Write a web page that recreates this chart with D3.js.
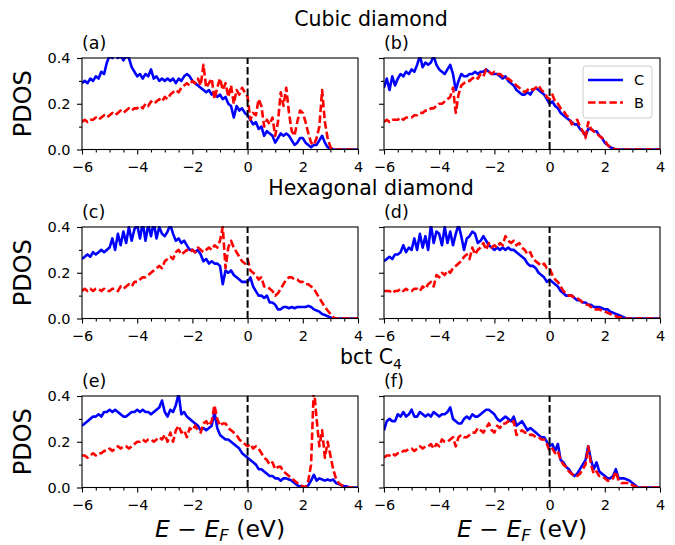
<!DOCTYPE html>
<html><head><meta charset="utf-8">
<script src="https://cdn.jsdelivr.net/npm/d3@7"></script>
<style>body{margin:0;background:#fff} text{font-family:"DejaVu Sans",sans-serif}</style>
</head><body><svg id="c" width="675" height="545"></svg>
<script>
// energy grid: -6.0 .. 4.0 eV, 0.1 eV step (101 samples)
const E_START = -6, E_STEP = 0.1;
const xTicks = [-6, -4, -2, 0, 2, 4];
const yTicks = [0.0, 0.2, 0.4];
const seriesNames = ["C", "B"];
const panelLabels = ["(a)", "(b)", "(c)", "(d)", "(e)", "(f)"];
const rowTitles = ["Cubic diamond", "Hexagonal diamond", "bct C"];

// (a) cubic diamond
const cubicA_C = [0.29,0.30,0.29,0.31,0.30,0.32,0.31,0.34,0.33,0.38,
0.41,0.40,0.42,0.40,0.41,0.39,0.41,0.40,0.36,0.34,
0.32,0.33,0.31,0.33,0.32,0.35,0.31,0.32,0.30,0.31,
0.30,0.31,0.30,0.31,0.29,0.31,0.30,0.32,0.33,0.32,
0.30,0.29,0.28,0.27,0.26,0.25,0.26,0.24,0.25,0.23,
0.24,0.22,0.23,0.20,0.19,0.14,0.19,0.17,0.18,0.16,
0.15,0.13,0.11,0.12,0.09,0.10,0.06,0.08,0.07,0.06,
0.03,0.05,0.07,0.06,0.07,0.06,0.04,0.02,0.03,0.05,
0.05,0.03,0.02,0.01,0.02,0.02,0.04,0.06,0.03,0.01,
0.005,0,0,0,0,0,0,0,0,0,0];
const cubicA_B = [0.12,0.13,0.12,0.13,0.13,0.14,0.13,0.14,0.15,0.14,
0.15,0.16,0.15,0.16,0.17,0.16,0.17,0.18,0.17,0.18,
0.18,0.19,0.18,0.20,0.19,0.21,0.20,0.21,0.22,0.21,
0.23,0.22,0.24,0.25,0.26,0.25,0.27,0.28,0.29,0.28,
0.30,0.29,0.31,0.28,0.37,0.27,0.29,0.31,0.22,0.27,
0.31,0.26,0.29,0.23,0.28,0.20,0.26,0.24,0.27,0.25,
0.23,0.13,0.16,0.15,0.22,0.19,0.10,0.13,0.11,0.14,
0.06,0.12,0.25,0.19,0.27,0.16,0.08,0.06,0.12,0.17,
0.16,0.12,0.07,0.03,0.02,0.05,0.10,0.26,0.12,0.05,
0.01,0,0,0,0,0,0,0,0,0,0];
// (b) cubic diamond
const cubicB_C = [0.27,0.31,0.26,0.32,0.28,0.31,0.33,0.32,0.34,0.33,
0.35,0.34,0.37,0.41,0.36,0.38,0.37,0.38,0.41,0.37,
0.35,0.34,0.33,0.35,0.37,0.33,0.26,0.30,0.33,0.32,
0.32,0.33,0.33,0.34,0.33,0.34,0.34,0.35,0.34,0.33,
0.33,0.33,0.32,0.31,0.32,0.30,0.29,0.28,0.26,0.25,
0.24,0.24,0.25,0.24,0.26,0.27,0.26,0.25,0.24,0.22,
0.20,0.21,0.19,0.18,0.16,0.15,0.14,0.13,0.12,0.11,
0.11,0.09,0.08,0.06,0.09,0.09,0.08,0.08,0.06,0.05,
0.03,0.02,0.01,0.005,0,0,0,0,0,0,
0,0,0,0,0,0,0,0,0,0,0];
const cubicB_B = [0.12,0.13,0.12,0.13,0.13,0.13,0.14,0.13,0.14,0.14,
0.14,0.15,0.15,0.16,0.16,0.17,0.17,0.18,0.18,0.19,
0.20,0.20,0.21,0.22,0.23,0.27,0.16,0.24,0.28,0.29,
0.30,0.30,0.31,0.32,0.31,0.33,0.32,0.35,0.34,0.33,
0.34,0.33,0.33,0.32,0.31,0.31,0.30,0.29,0.28,0.27,
0.26,0.25,0.26,0.27,0.26,0.27,0.28,0.26,0.25,0.23,
0.22,0.24,0.21,0.20,0.18,0.17,0.15,0.14,0.11,0.12,
0.13,0.10,0.08,0.05,0.12,0.09,0.08,0.07,0.06,0.05,
0.04,0.02,0.01,0.005,0,0,0,0,0,0,
0,0,0,0,0,0,0,0,0,0,0];
// (c) hexagonal diamond
const hexA_C = [0.26,0.27,0.28,0.27,0.29,0.28,0.29,0.30,0.29,0.30,
0.31,0.35,0.30,0.37,0.32,0.38,0.33,0.40,0.34,0.39,
0.41,0.35,0.42,0.34,0.41,0.36,0.42,0.35,0.40,0.37,
0.36,0.38,0.41,0.37,0.34,0.35,0.33,0.34,0.32,0.30,
0.30,0.29,0.30,0.28,0.25,0.26,0.24,0.25,0.24,0.24,
0.23,0.15,0.21,0.20,0.21,0.19,0.18,0.17,0.16,0.16,
0.16,0.18,0.14,0.12,0.10,0.10,0.09,0.10,0.07,0.07,
0.06,0.04,0.04,0.05,0.05,0.045,0.05,0.045,0.05,0.05,
0.05,0.05,0.055,0.05,0.04,0.035,0.03,0.02,0.015,0.01,
0.005,0,0,0,0,0,0,0,0,0,0];
const hexA_B = [0.12,0.13,0.12,0.13,0.12,0.13,0.13,0.12,0.13,0.12,
0.12,0.13,0.13,0.12,0.14,0.13,0.14,0.15,0.14,0.16,
0.16,0.17,0.18,0.18,0.19,0.20,0.21,0.22,0.23,0.22,
0.25,0.26,0.27,0.26,0.29,0.30,0.28,0.29,0.30,0.29,
0.30,0.29,0.31,0.30,0.29,0.30,0.31,0.30,0.32,0.31,
0.34,0.40,0.22,0.31,0.34,0.31,0.29,0.27,0.25,0.24,
0.26,0.21,0.20,0.19,0.17,0.18,0.14,0.14,0.13,0.12,
0.10,0.11,0.13,0.15,0.17,0.18,0.18,0.17,0.17,0.16,
0.16,0.15,0.15,0.14,0.13,0.11,0.09,0.07,0.05,0.035,
0.02,0.005,0,0,0,0,0,0,0,0,0];
// (d) hexagonal diamond
const hexB_C = [0.25,0.26,0.27,0.26,0.28,0.28,0.29,0.32,0.29,0.31,
0.30,0.35,0.30,0.37,0.31,0.36,0.30,0.41,0.33,0.38,
0.37,0.32,0.40,0.33,0.38,0.32,0.37,0.41,0.36,0.30,
0.35,0.36,0.38,0.37,0.33,0.34,0.36,0.34,0.32,0.31,
0.30,0.31,0.30,0.31,0.30,0.31,0.30,0.30,0.29,0.28,
0.27,0.26,0.24,0.23,0.23,0.22,0.20,0.19,0.18,0.16,
0.17,0.16,0.15,0.14,0.12,0.11,0.10,0.10,0.10,0.09,
0.08,0.08,0.07,0.07,0.06,0.06,0.05,0.05,0.05,0.045,
0.04,0.04,0.03,0.025,0.02,0.015,0.01,0.005,0,0,
0,0,0,0,0,0,0,0,0,0,0];
const hexB_B = [0.12,0.12,0.12,0.11,0.12,0.12,0.13,0.12,0.13,0.12,
0.12,0.13,0.13,0.12,0.14,0.13,0.15,0.16,0.14,0.19,
0.18,0.20,0.19,0.21,0.20,0.22,0.23,0.24,0.25,0.27,
0.28,0.26,0.31,0.28,0.30,0.31,0.33,0.30,0.33,0.31,
0.32,0.31,0.33,0.32,0.36,0.34,0.33,0.34,0.32,0.33,
0.31,0.30,0.28,0.29,0.26,0.25,0.24,0.23,0.24,0.22,
0.22,0.19,0.17,0.16,0.14,0.12,0.11,0.10,0.10,0.09,
0.09,0.08,0.07,0.06,0.06,0.05,0.04,0.04,0.04,0.035,
0.03,0.025,0.02,0.015,0.01,0.005,0.005,0,0,0,
0,0,0,0,0,0,0,0,0,0,0];
// (e) bct C4
const bctA_C = [0.27,0.28,0.29,0.30,0.31,0.31,0.32,0.31,0.33,0.33,
0.34,0.33,0.34,0.33,0.32,0.31,0.31,0.32,0.33,0.33,
0.34,0.33,0.34,0.33,0.33,0.32,0.33,0.34,0.35,0.38,
0.33,0.31,0.34,0.33,0.36,0.41,0.32,0.33,0.31,0.30,
0.29,0.28,0.27,0.25,0.26,0.25,0.26,0.27,0.33,0.26,
0.23,0.22,0.21,0.21,0.20,0.19,0.18,0.17,0.15,0.14,
0.13,0.12,0.11,0.10,0.08,0.08,0.07,0.06,0.05,0.05,
0.04,0.04,0.03,0.04,0.04,0.035,0.03,0.02,0.01,0.005,
0.005,0,0.01,0.03,0.055,0.03,0.04,0.035,0.03,0.035,
0.03,0.035,0.02,0.015,0.01,0.005,0.005,0,0,0,0];
const bctA_B = [0.14,0.14,0.13,0.14,0.15,0.14,0.15,0.15,0.16,0.16,
0.17,0.16,0.17,0.18,0.17,0.18,0.18,0.17,0.18,0.19,
0.20,0.20,0.21,0.20,0.21,0.21,0.20,0.21,0.22,0.21,
0.23,0.20,0.24,0.20,0.25,0.27,0.24,0.25,0.22,0.26,
0.25,0.27,0.25,0.24,0.28,0.29,0.27,0.29,0.36,0.30,
0.27,0.28,0.28,0.26,0.25,0.24,0.23,0.21,0.20,0.19,
0.18,0.19,0.17,0.18,0.17,0.15,0.13,0.12,0.10,0.11,
0.08,0.09,0.09,0.07,0.06,0.05,0.04,0.03,0.02,0.01,
0.005,0,0.03,0.10,0.44,0.30,0.18,0.25,0.13,0.20,
0.14,0.08,0.04,0.02,0.01,0.005,0,0,0,0,0];
// (f) bct C4
const bctB_C = [0.25,0.29,0.30,0.29,0.29,0.32,0.31,0.33,0.31,0.32,
0.34,0.31,0.31,0.33,0.32,0.31,0.32,0.31,0.33,0.32,
0.31,0.32,0.32,0.33,0.35,0.30,0.29,0.28,0.28,0.30,
0.31,0.30,0.32,0.31,0.31,0.32,0.33,0.34,0.34,0.33,
0.32,0.30,0.29,0.30,0.31,0.30,0.29,0.31,0.27,0.28,
0.29,0.27,0.25,0.26,0.25,0.24,0.23,0.22,0.22,0.20,
0.18,0.19,0.16,0.19,0.12,0.11,0.09,0.08,0.06,0.05,
0.06,0.08,0.10,0.12,0.18,0.12,0.08,0.11,0.07,0.06,
0.05,0.04,0.04,0.05,0.08,0.04,0.04,0.04,0.035,0.03,
0.02,0.01,0,0,0,0,0,0,0,0,0];
const bctB_B = [0.13,0.14,0.14,0.15,0.14,0.15,0.15,0.16,0.16,0.17,
0.17,0.16,0.17,0.18,0.17,0.18,0.18,0.19,0.17,0.19,
0.18,0.21,0.20,0.20,0.21,0.22,0.18,0.22,0.23,0.22,
0.22,0.23,0.24,0.24,0.26,0.25,0.24,0.26,0.28,0.25,
0.24,0.27,0.26,0.28,0.28,0.29,0.28,0.29,0.23,0.24,
0.25,0.24,0.24,0.23,0.23,0.22,0.22,0.21,0.21,0.19,
0.16,0.17,0.15,0.16,0.12,0.10,0.09,0.07,0.06,0.05,
0.05,0.06,0.08,0.10,0.18,0.10,0.06,0.07,0.05,0.05,
0.04,0.03,0.03,0.04,0.07,0.03,0.02,0.02,0.02,0.02,
0.01,0.005,0,0,0,0,0,0,0,0,0];

const panelSeries = [
  [cubicA_C, cubicA_B], [cubicB_C, cubicB_B],
  [hexA_C, hexA_B], [hexB_C, hexB_B],
  [bctA_C, bctA_B], [bctB_C, bctB_B]
];
const colors = ["#0000ff", "#ff0000"];

const svg = d3.select("#c");
const colX = [[82, 358], [384, 660]];
const rowTop = [58, 227, 396];
const ph = 91.5;

const fmtY = d3.format(".1f");
const minorX = d3.range(-6, 4.0001, 0.5).map(v => +v.toFixed(2)).filter(v => !xTicks.includes(v));
const minorY = [0.1, 0.3];

panelSeries.forEach((ser, i) => {
  const row = Math.floor(i / 2), col = i % 2;
  const x = d3.scaleLinear().domain([-6, 4]).range(colX[col]);
  const y = d3.scaleLinear().domain([0, 0.4]).range([rowTop[row] + ph, rowTop[row]]);
  const g = svg.append("g");
  const cid = "clip" + i;
  svg.append("clipPath").attr("id", cid).append("rect")
    .attr("x", colX[col][0]).attr("y", rowTop[row] - 1)
    .attr("width", colX[col][1] - colX[col][0]).attr("height", ph + 1);

  const line = d3.line().x((d, k) => x(E_START + k * E_STEP)).y(d => y(d));
  const lg = g.append("g").attr("clip-path", `url(#${cid})`);
  ser.forEach((vals, s) => {
    lg.append("path").datum(vals).attr("d", line)
      .attr("fill", "none").attr("stroke", colors[s]).attr("stroke-width", 2.6)
      .attr("stroke-linejoin", "round")
      .attr("stroke-dasharray", s === 1 ? "7.5,3.2" : null);
  });
  lg.append("line").attr("x1", x(0)).attr("x2", x(0))
    .attr("y1", y(0)).attr("y2", y(0.4))
    .attr("stroke", "#000").attr("stroke-width", 2).attr("stroke-dasharray", "7.5,3.2");

  g.append("rect").attr("x", colX[col][0]).attr("y", rowTop[row])
    .attr("width", colX[col][1] - colX[col][0]).attr("height", ph)
    .attr("fill", "none").attr("stroke", "#000").attr("stroke-width", 1.1);

  const xa = g.append("g").attr("transform", `translate(0,${rowTop[row] + ph})`)
    .call(d3.axisBottom(x).tickValues(xTicks).tickSize(5).tickPadding(7.5).tickFormat(d3.format("d")));
  const xm = g.append("g").attr("transform", `translate(0,${rowTop[row] + ph})`)
    .call(d3.axisBottom(x).tickValues(minorX).tickSize(3).tickFormat(""));
  const ya = g.append("g").attr("transform", `translate(${colX[col][0]},0)`)
    .call(d3.axisLeft(y).tickValues(yTicks).tickSize(5).tickPadding(6.5)
      .tickFormat(col === 0 ? fmtY : ""));
  const ym = g.append("g").attr("transform", `translate(${colX[col][0]},0)`)
    .call(d3.axisLeft(y).tickValues(minorY).tickSize(3).tickFormat(""));
  [xa, xm, ya, ym].forEach(a => {
    a.select(".domain").remove();
    a.selectAll("line").attr("stroke", "#000").attr("stroke-width", 1.1);
    a.selectAll("text").attr("font-size", 14.5).attr("fill", "#000")
      .attr("font-family", "DejaVu Sans");
  });

  g.append("text").attr("x", colX[col][0]).attr("y", rowTop[row] - 9)
    .attr("font-size", 17.5).text(panelLabels[i]);

  if (col === 0) {
    g.append("text").attr("transform", `translate(31,${rowTop[row] + ph / 2}) rotate(-90)`)
      .attr("text-anchor", "middle").attr("font-size", 24).text("PDOS");
  }
});

rowTitles.forEach((t, r) => {
  const tx = svg.append("text").attr("x", 371).attr("y", rowTop[r] - 32)
    .attr("text-anchor", "middle").attr("font-size", 20.5).text(t);
  if (r === 2) tx.append("tspan").attr("font-size", 14).attr("dy", 5).text("4");
});

colX.forEach(([a, b]) => {
  const t = svg.append("text").attr("x", (a + b) / 2).attr("y", 537)
    .attr("text-anchor", "middle").attr("font-size", 23.5);
  t.append("tspan").attr("font-style", "italic").text("E");
  t.append("tspan").text(" \u2212 ");
  t.append("tspan").attr("font-style", "italic").text("E");
  t.append("tspan").attr("font-style", "italic").attr("font-size", 16.5).attr("dy", 4).text("F");
  t.append("tspan").attr("dy", -4).text(" (eV)");
});

const leg = svg.append("g");
leg.append("rect").attr("x", 583).attr("y", 66).attr("width", 69).attr("height", 52)
  .attr("rx", 3).attr("fill", "#fff").attr("fill-opacity", 0.8)
  .attr("stroke", "#cccccc").attr("stroke-width", 1);
seriesNames.forEach((n, s) => {
  const yy = 80 + s * 22.5;
  leg.append("line").attr("x1", 588).attr("x2", 623).attr("y1", yy).attr("y2", yy)
    .attr("stroke", colors[s]).attr("stroke-width", 2.6)
    .attr("stroke-dasharray", s === 1 ? "7.5,3.2" : null);
  leg.append("text").attr("x", 634).attr("y", yy + 5.3).attr("font-size", 14.5).text(n);
});
</script></body></html>
